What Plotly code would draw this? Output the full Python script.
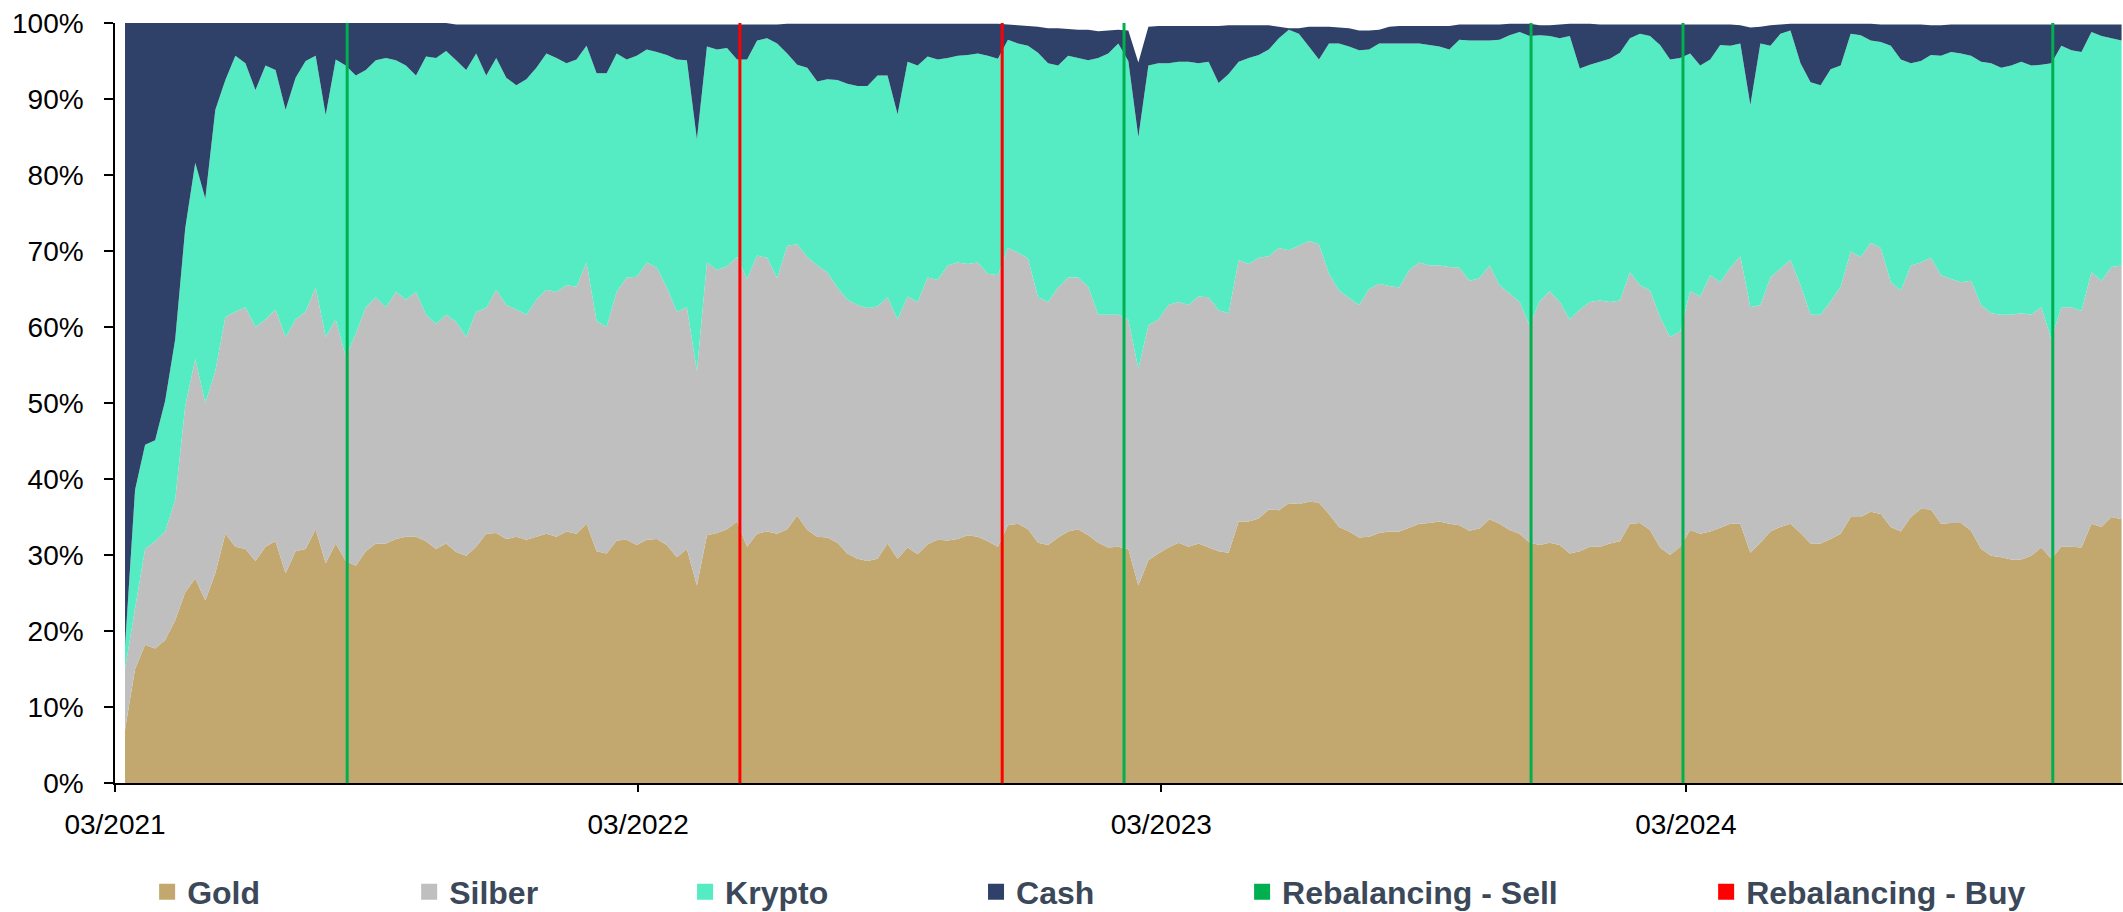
import pandas as pd
import plotly.graph_objects as go

# ---------------- data (weekly readings, % of portfolio) ----------------
dates = pd.date_range("2021-03-08", periods=200, freq="7D")

gold = [
    7, 15, 18.2, 17.7, 18.8, 21.4, 25.1, 26.9, 24, 27.6,
    32.8, 31.1, 30.8, 29.2, 31.1, 31.8, 27.6, 30.5, 30.8, 33.4,
    28.9, 31.5, 29.2, 28.6, 30.5, 31.5, 31.5, 32.1, 32.4, 32.4,
    31.8, 30.8, 31.5, 30.4, 29.9, 31.1, 32.8, 32.9, 32.1, 32.4,
    32, 32.4, 32.8, 32.4, 33.1, 32.8, 34.1, 30.5, 30.2, 31.9,
    32, 31.3, 32, 32.1, 31.3, 29.7, 30.8, 26, 32.6, 32.9,
    33.4, 34.4, 31.1, 32.8, 33.1, 32.8, 33.4, 35.2, 33.3, 32.4,
    32.3, 31.6, 30.2, 29.5, 29.2, 29.5, 31.5, 29.5, 31, 30.1,
    31.4, 32, 31.9, 32.1, 32.6, 32.4, 31.8, 31.1, 33.9, 34.1,
    33.4, 31.6, 31.3, 32.3, 33.1, 33.4, 32.6, 31.6, 31, 31.1,
    30.8, 26, 29.3, 30.2, 31, 31.6, 31.1, 31.5, 31, 30.5,
    30.3, 34.4, 34.4, 34.8, 36, 35.9, 36.8, 36.7, 37, 36.9,
    35.4, 33.7, 33.1, 32.3, 32.4, 32.9, 33.1, 33.1, 33.6, 34.1,
    34.2, 34.4, 34.1, 33.9, 33.2, 33.5, 34.7, 34.1, 33.3, 32.8,
    31.6, 31.3, 31.6, 31.3, 30.2, 30.5, 31.1, 31.1, 31.5, 31.8,
    34.1, 34.2, 33.3, 31, 30, 31.1, 33.3, 32.8, 33.1, 33.6,
    34.1, 34.1, 30.3, 31.6, 33.1, 33.7, 34.1, 32.9, 31.5, 31.5,
    32.1, 32.8, 35, 35, 35.7, 35.4, 33.7, 33.1, 35, 36.1,
    36, 34.1, 34.2, 34.2, 33.2, 30.8, 29.9, 29.7, 29.4, 29.4,
    29.9, 31, 29.5, 31.1, 31.1, 31, 34.1, 33.7, 35, 34.7,
]

silber = [
    8, 8, 12.6, 14.1, 14.3, 15.9, 24.5, 28.9, 26, 26.6,
    28.5, 30.9, 31.8, 30.8, 29.9, 30.5, 31.1, 30.5, 31.2, 31.8,
    29.8, 29.5, 26.9, 30.5, 32.1, 32.4, 31.1, 32.5, 31.2, 32.2,
    29.8, 29.6, 30.1, 30.3, 28.8, 30.9, 29.7, 32, 30.8, 29.9,
    29.6, 31.2, 32.1, 32.2, 32.4, 32.5, 34.4, 30.3, 29.8, 32.7,
    34.5, 35.3, 36.5, 35.7, 33.9, 32.3, 31.8, 28.2, 35.9, 34.6,
    34.6, 34.8, 35.2, 36.6, 36, 33.6, 37.3, 35.7, 35.9, 35.7,
    34.9, 33.6, 33.4, 33.4, 33.3, 33.2, 32.4, 31.5, 33, 33.2,
    35.1, 34.2, 36.2, 36.4, 35.7, 36.1, 35.2, 35.7, 36.5, 35.7,
    35.6, 32.3, 32, 32.9, 33.4, 33.1, 32.7, 30, 30.6, 30.5,
    30.2, 28.5, 30.9, 30.8, 31.9, 31.7, 31.8, 32.5, 32.9, 31.7,
    31.5, 34.4, 33.9, 34.3, 33.3, 34.5, 33.3, 34, 34.3, 34,
    31.6, 31.1, 30.7, 30.6, 32.6, 32.8, 32.3, 32.1, 33.9, 34.4,
    33.9, 33.7, 33.8, 33.9, 32.9, 32.9, 33.4, 31.4, 31.1, 30.5,
    28.6, 32.1, 33.1, 32, 30.8, 31.8, 32.2, 32.4, 31.8, 31.7,
    33.1, 31.3, 31.5, 30.3, 28.7, 28.3, 31.4, 31.2, 33.7, 32.3,
    33.7, 35.2, 32.3, 31.3, 33.4, 34, 34.7, 32.6, 30.1, 30.1,
    31.3, 32.5, 34.9, 34.2, 35.4, 35, 32.2, 31.7, 33.1, 32.4,
    33.1, 32.7, 32.1, 31.7, 32.9, 32.1, 31.9, 31.9, 32.2, 32.4,
    31.7, 31.6, 28.9, 31.5, 31.5, 31.1, 33.1, 32.4, 32.9, 33.4,
]

krypto = [
    3, 15.6, 13.7, 13.3, 17.2, 21.1, 23.4, 25.8, 26.9, 34.4,
    31.2, 33.7, 32.1, 31.2, 33.4, 31.5, 29.9, 31.8, 33, 30.5,
    29.2, 34.2, 38.3, 34, 31.2, 31.2, 32.8, 30.5, 30.8, 28.5,
    34, 35, 34.7, 34.4, 35.1, 34, 30.6, 30.5, 29.9, 29.5,
    31, 30.5, 31.1, 30.8, 29.2, 29.9, 28.5, 32.6, 33.4, 31.4,
    28.7, 29.1, 28, 28.4, 30.6, 33.2, 32.5, 30.5, 28.4, 29,
    28.7, 26, 28.9, 28.3, 28.9, 30.9, 25.3, 23.6, 24.9, 24.2,
    25.4, 27.3, 28.4, 28.8, 29.2, 30.4, 29.2, 27, 30.9, 31.1,
    29.1, 29, 27.3, 27.2, 27.5, 27.5, 28.7, 28.5, 27.4, 27.5,
    28, 32.2, 31.4, 29.2, 29.2, 28.9, 29.8, 33.8, 34.4, 35.7,
    34, 30.5, 34.2, 33.7, 31.8, 31.6, 32, 30.7, 31, 29.9,
    31.5, 26.1, 27.1, 26.7, 27.2, 27.6, 29, 27.9, 25.6, 24.3,
    30.3, 32.5, 33.1, 33.5, 31.5, 31.6, 31.9, 32.1, 29.8, 28.8,
    29, 28.8, 28.6, 30, 31.6, 31.3, 29.6, 32.3, 34, 35.5,
    38.1, 35, 33.6, 34.7, 37.3, 31.7, 31.2, 31.4, 32, 32.6,
    30.8, 33.1, 33.5, 35.8, 36.5, 36, 31.3, 30.4, 28.4, 31.2,
    29.2, 28, 26.6, 34.4, 30.5, 30.9, 30.2, 29.2, 30.6, 30.2,
    30.5, 29.1, 28.7, 29.2, 26.6, 27.1, 31.1, 30.4, 26.6, 26.5,
    26.7, 28.9, 29.9, 30.1, 29.6, 32, 32.9, 32.5, 32.8, 33.1,
    32.8, 31.9, 36.3, 34.4, 33.8, 34.1, 31.6, 32.2, 30.1, 29.6,
]

cash = [
    82, 61.4, 55.5, 54.9, 49.7, 41.6, 27, 18.4, 23.1, 11.4,
    7.5, 4.3, 5.3, 8.8, 5.6, 6.2, 11.4, 7.2, 5, 4.3,
    12.1, 4.8, 5.6, 6.9, 6.2, 4.9, 4.6, 4.9, 5.6, 6.9,
    4.4, 4.6, 3.7, 4.7, 6, 3.8, 6.7, 4.4, 7, 8,
    7.2, 5.7, 3.8, 4.4, 5.1, 4.6, 2.8, 6.4, 6.4, 3.8,
    4.6, 4.1, 3.3, 3.6, 4, 4.6, 4.7, 15.1, 2.9, 3.3,
    3.1, 4.6, 4.6, 2.1, 1.8, 2.5, 3.9, 5.4, 5.8, 7.6,
    7.3, 7.4, 7.9, 8.2, 8.2, 6.8, 6.8, 11.9, 5, 5.5,
    4.3, 4.7, 4.5, 4.2, 4.1, 3.9, 4.2, 4.6, 2, 2.4,
    2.6, 3.4, 4.6, 4.9, 3.5, 3.7, 4, 3.5, 3, 1.8,
    4, 9.8, 5.1, 4.9, 4.9, 4.7, 4.7, 4.9, 4.7, 7.5,
    6.4, 4.8, 4.3, 3.9, 3.2, 1.5, 0.2, 0.7, 2.6, 4.3,
    2.2, 2.1, 2.4, 2.6, 2.5, 1.8, 2.2, 2.3, 2.3, 2.3,
    2.5, 2.7, 3.1, 2, 2.1, 2.1, 2.1, 2, 1.5, 1.1,
    1.6, 1.3, 1.4, 1.8, 1.6, 5.9, 5.4, 4.9, 4.5, 3.7,
    1.8, 1.2, 1.5, 2.7, 4.6, 4.4, 3.8, 5.4, 4.6, 2.7,
    2.8, 2.4, 10.2, 2.2, 2.7, 1.2, 0.9, 5.2, 7.7, 8.1,
    6, 5.5, 1.3, 1.5, 2.2, 2.3, 2.8, 4.6, 5.1, 4.8,
    3.9, 4, 3.6, 3.8, 4.1, 4.9, 5.1, 5.7, 5.4, 4.9,
    5.4, 5.3, 5.1, 2.8, 3.4, 3.6, 1, 1.5, 1.8, 2.1,
]

sell_dates = ["2021-08-10", "2023-02-03", "2023-11-14", "2024-02-28", "2024-11-12"]
buy_dates = ["2022-05-11", "2022-11-10"]

series_names = ["Gold", "Silber", "Krypto", "Cash"]
event_names = ["Rebalancing - Sell", "Rebalancing - Buy"]

# ---------------- styles ----------------
area_colors = ["#C2A86E", "#BFBFBF", "#55EBC3", "#2F4069"]
sell_color = "#00B050"
buy_color = "#FF0000"
legend_text_color = "#3B4859"
FONT = "Liberation Sans, Arial, sans-serif"

fig = go.Figure()

for name, vals, col in zip(series_names, [gold, silber, krypto, cash], area_colors):
    fig.add_trace(go.Scatter(
        x=dates, y=vals, name=name, stackgroup="one", mode="none",
        fillcolor=col, line=dict(width=0), showlegend=False,
        hoverinfo="x+y+name",
    ))


def vline_xy(ds):
    xs, ys = [], []
    for d in ds:
        xs += [d, d, None]
        ys += [0, 100, None]
    return xs, ys


for ds, col, nm in [(sell_dates, sell_color, event_names[0]),
                    (buy_dates, buy_color, event_names[1])]:
    xs, ys = vline_xy(ds)
    fig.add_trace(go.Scatter(x=xs, y=ys, mode="lines", name=nm,
                             line=dict(color=col, width=3),
                             showlegend=False, hoverinfo="x+name"))

# legend proxies (square symbols), each in its own legend for exact placement
legend_labels = series_names + event_names
legend_colors = area_colors + [sell_color, buy_color]
legend_x = [0.0160, 0.1465, 0.2839, 0.4288, 0.5613, 0.7924]

legend_layout = {}
for k, (lab, col, lx) in enumerate(zip(legend_labels, legend_colors, legend_x)):
    lid = "legend" if k == 0 else f"legend{k + 1}"
    fig.add_trace(go.Scatter(
        x=[None], y=[None], mode="markers", name=lab, legend=lid,
        marker=dict(symbol="square", size=16, color=col, line=dict(width=0)),
        showlegend=True,
    ))
    legend_layout[lid] = dict(
        x=lx, xanchor="left", y=-0.1435, yanchor="middle",
        orientation="h", bgcolor="rgba(0,0,0,0)", borderwidth=0,
        font=dict(family=FONT, size=32, color=legend_text_color, weight="bold"),
        itemwidth=30,
    )

fig.update_layout(
    width=2123, height=912,
    margin=dict(l=115, r=0, t=23, b=129, autoexpand=False),
    paper_bgcolor="white", plot_bgcolor="white",
    font=dict(family=FONT, size=28, color="black"),
    hovermode="closest",
    **legend_layout,
)

fig.update_xaxes(
    type="date",
    range=["2021-03-01", "2024-12-31"],
    tick0="2021-03-01", dtick="M12", tickformat="%m/%Y",
    showgrid=False, zeroline=False,
    showline=True, linecolor="black", linewidth=2,
    ticks="outside", ticklen=7, tickwidth=1.5, tickcolor="black",
    tickfont=dict(family=FONT, size=28, color="black"),
    ticklabelstandoff=8,
)

fig.update_yaxes(
    range=[0, 100], dtick=10, ticksuffix="%",
    showgrid=False, zeroline=False,
    showline=True, linecolor="black", linewidth=1.5,
    ticks="outside", ticklen=9, tickwidth=1.5, tickcolor="black",
    tickfont=dict(family=FONT, size=28, color="black"),
    ticklabelstandoff=15,
)

fig.write_html(
    "out.html",
    config={"displayModeBar": False},
    post_script="document.body.style.margin='0';document.body.style.overflow='hidden';",
)
